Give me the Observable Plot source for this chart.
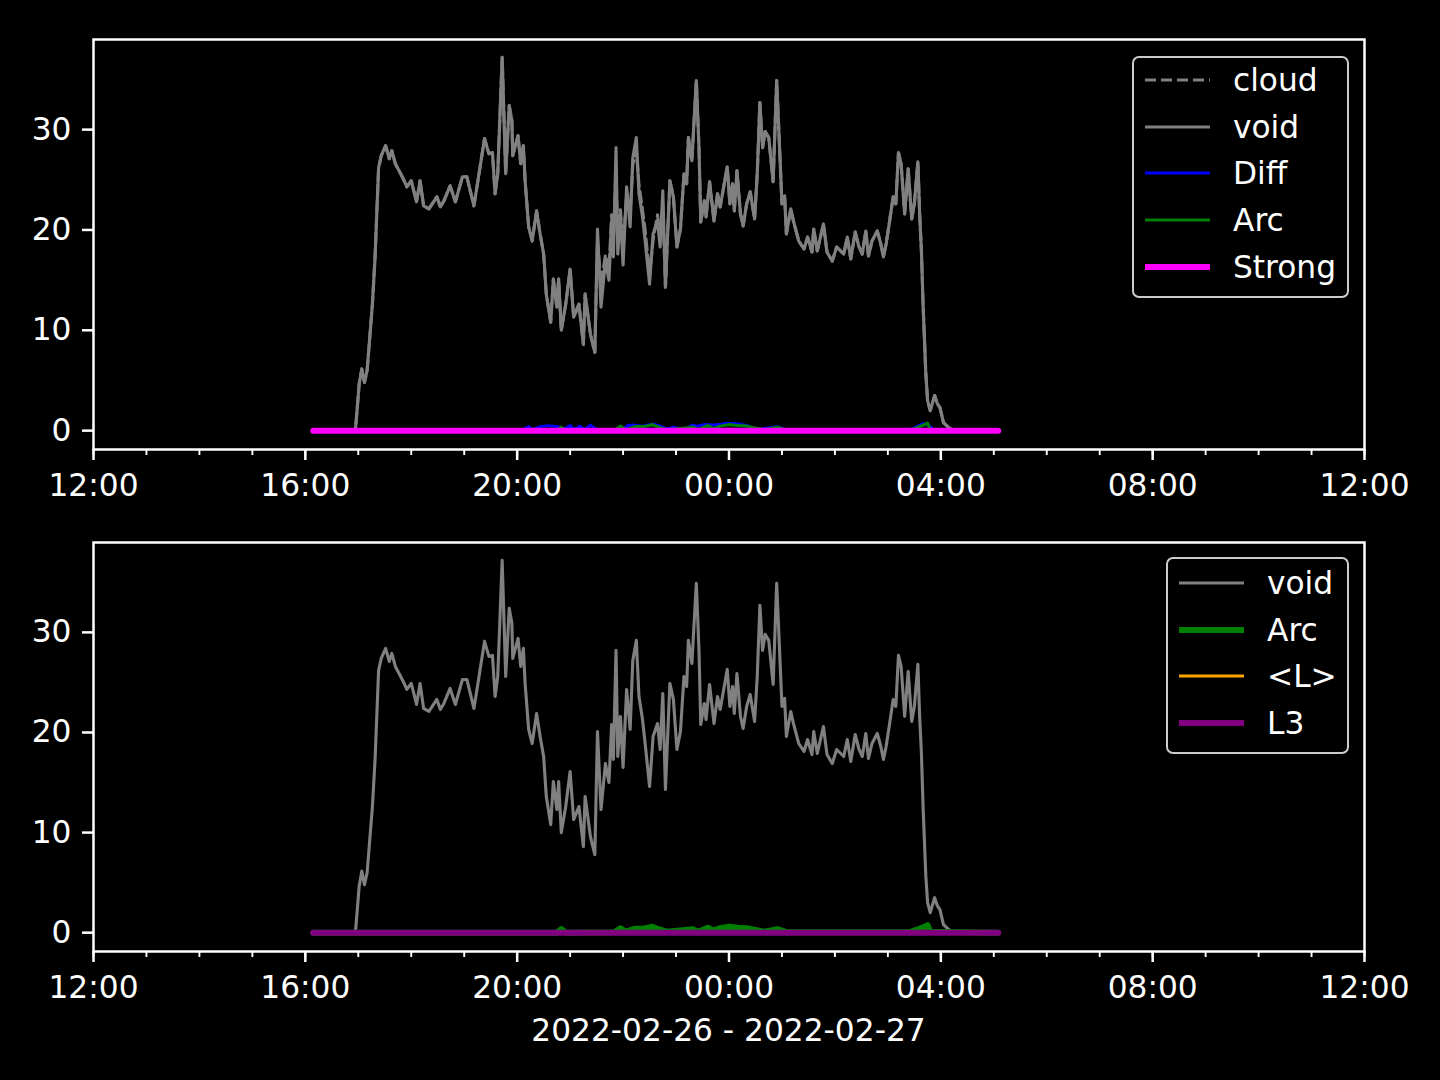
<!DOCTYPE html>
<html><head><meta charset="utf-8">
<script src="https://cdn.jsdelivr.net/npm/d3@7"></script>
<script src="https://cdn.jsdelivr.net/npm/@observablehq/plot@0.6"></script>
<style>
body{margin:0;background:#000;}
#fig{position:relative;width:1440px;height:1080px;background:#000;overflow:hidden;font-family:"DejaVu Sans",sans-serif;color:#fff;}
.panel{position:absolute;left:0;}
.legend{position:absolute;border:2px solid #cccccc;border-radius:7px;background:#000;box-sizing:border-box;}
.row{position:absolute;left:0;height:40px;display:flex;align-items:center;}
.row svg{position:absolute;left:10px;top:15px;}
.row span{position:absolute;left:99px;top:0;line-height:40px;font-size:31.25px;white-space:nowrap;color:#fff;}
#xlabel{position:absolute;left:0;width:1457px;text-align:center;top:1011px;font-size:31.25px;line-height:38px;}
</style></head>
<body><div id="fig"></div>
<script>
// ---- data ----
const voidTimes = ["16:09","16:30","16:55","16:57","17:01","17:04","17:07","17:10","17:16","17:19","17:23","17:26","17:31","17:35","17:38","17:42","17:48","17:52","17:55","18:00","18:06","18:10","18:14","18:20","18:29","18:33","18:37","18:44","18:50","18:58","19:03","19:11","19:15","19:23","19:28","19:32","19:35","19:38","19:43","19:47","19:51","19:54","19:55","20:01","20:04","20:07","20:09","20:13","20:17","20:22","20:26","20:30","20:33","20:38","20:41","20:45","20:47","20:50","20:55","21:00","21:04","21:10","21:15","21:17","21:23","21:28","21:31","21:35","21:40","21:44","21:47","21:49","21:52","21:54","21:57","22:00","22:04","22:08","22:11","22:15","22:18","22:22","22:25","22:30","22:34","22:39","22:42","22:45","22:48","22:53","22:57","23:01","23:05","23:09","23:12","23:14","23:18","23:20","23:23","23:26","23:28","23:32","23:34","23:38","23:43","23:47","23:50","23:52","23:58","00:01","00:04","00:06","00:09","00:13","00:16","00:20","00:24","00:29","00:32","00:35","00:38","00:41","00:45","00:50","00:54","00:56","01:00","01:03","01:05","01:10","01:13","01:19","01:25","01:29","01:34","01:36","01:40","01:47","01:51","01:57","02:02","02:10","02:14","02:18","02:23","02:27","02:31","02:35","02:38","02:42","02:48","02:52","02:55","02:58","03:02","03:06","03:09","03:12","03:15","03:19","03:23","03:27","03:30","03:34","03:36","03:38","03:40","03:43","03:45","03:48","03:53","03:56","03:59","04:03","04:09","04:15","04:40","05:05"];
const voidValues = [0,0,0,0.3,4.65,6.15,4.8,6.0,12.6,17.3,26.2,27.4,28.4,27.1,27.9,26.6,25.6,24.9,24.3,24.9,22.8,24.9,22.4,22.1,23.3,22.3,22.9,24.4,22.8,25.3,25.3,22.4,24.6,29.1,27.6,27.7,23.6,25.6,37.2,25.6,32.4,30.9,27.4,29.4,26.6,28.4,24.9,20.3,18.9,21.9,19.6,17.6,13.6,10.8,15.1,12.3,15.1,10.0,12.6,16.1,11.3,12.6,8.6,13.6,9.6,7.8,20.1,12.3,16.9,15.0,20.8,17.3,28.2,17.6,21.6,16.5,24.3,20.3,27.2,29.2,23.6,21.3,18.9,14.6,19.6,20.9,18.3,23.9,14.3,24.9,23.3,18.3,20.1,25.6,24.6,29.2,26.9,30.2,34.9,28.2,20.8,22.9,21.3,24.8,20.9,23.6,22.3,23.3,26.3,22.6,24.6,21.9,25.9,21.6,20.4,22.6,23.8,21.1,25.6,32.7,28.2,29.8,29.2,24.8,34.9,30.9,22.6,23.4,19.6,22.1,20.9,18.9,18.1,19.3,17.8,20.1,17.9,20.6,17.8,16.9,18.3,17.6,19.3,17.1,19.8,18.4,17.6,19.9,17.4,18.9,19.9,18.6,17.3,18.6,20.9,23.3,22.6,27.7,26.6,21.6,26.1,21.1,22.6,26.8,21.6,17.9,12.3,5.65,3.0,2.0,3.5,2.7,2.3,0.8,0.3,0,0,0];

// cloud follows void except in this window, where it reads differently
const cloudWindow = ["21:30","22:46"];
const cloudTimes = ["21:31","21:35","21:40","21:44","21:47","21:49","21:52","21:54","21:57","22:00","22:04","22:08","22:11","22:15","22:18","22:22","22:25","22:30","22:34","22:39","22:42","22:45"];
const cloudValues = [19.0,14.5,17.5,16.0,21.5,19.0,26.0,18.5,22.0,18.0,23.5,21.5,26.5,28.0,24.5,22.0,20.0,15.5,19.0,21.5,19.5,22.5];

const diffTimes = ["16:09","20:05","20:13","20:18","20:26","20:35","20:46","20:52","21:00","21:05","21:11","21:16","21:23","21:30","22:00","22:05","22:12","22:17","22:22","22:27","22:35","22:42","22:50","22:57","23:10","23:19","23:24","23:32","23:42","23:47","23:55","00:05","00:15","00:21","00:30","00:55","01:05","03:25","03:33","03:40","03:46","03:52","05:05"];
const diffValues = [0,0,0.4,0.1,0.4,0.5,0.4,0.1,0.5,0.1,0.45,0.1,0.55,0.1,0.1,0.5,0.55,0.5,0.45,0.55,0.65,0.45,0.15,0.35,0.1,0.55,0.45,0.6,0.55,0.6,0.7,0.7,0.6,0.5,0.1,0.4,0.05,0.05,0.4,0.7,0.55,0.05,0];

const arcTimes = ["16:09","20:45","20:50","20:55","21:50","21:57","22:03","22:14","22:20","22:26","22:33","22:40","22:50","23:19","23:25","23:36","23:42","23:50","00:00","00:10","00:20","00:28","00:40","00:55","01:05","03:25","03:33","03:40","03:45","03:48","05:05"];
const arcValues = [0,0,0.35,0,0.05,0.45,0.1,0.4,0.4,0.45,0.6,0.35,0.1,0.35,0.1,0.5,0.2,0.45,0.6,0.5,0.45,0.3,0.1,0.35,0.05,0.05,0.3,0.55,0.75,0.1,0];

const flatTimes = ["16:09","05:05"];   // Strong, <L>, L3
const strongValues = [0,0];
const lValues = [0,0];
const l3Values = [0,0];

const xTickLabels = ["12:00","16:00","20:00","00:00","04:00","08:00","12:00"];
const yTicks = [0,10,20,30];
const xAxisLabel = "2022-02-26 - 2022-02-27";

// ---- helpers ----
const toDate = t => { const [h,m] = t.split(":").map(Number); return new Date(2022,1,h<12?27:26,h,m); };
const rows = (times, values) => times.map((t,i)=>({t:toDate(t), v:values[i]}));
const X0 = new Date(2022,1,26,12), X1 = new Date(2022,1,27,12);
const majorTicks = d3.timeHour.every(4).range(X0, new Date(+X1+1));
const minorTicks = d3.timeHour.every(1).range(X0, new Date(+X1+1));

const voidData = rows(voidTimes, voidValues);
const w0 = toDate(cloudWindow[0]), w1 = toDate(cloudWindow[1]);
const cloudData = voidData.filter(d => d.t < w0 || d.t > w1).concat(rows(cloudTimes, cloudValues)).sort((a,b)=>a.t-b.t);
const diffData = rows(diffTimes, diffValues);
const arcData = rows(arcTimes, arcValues);
const strongData = rows(flatTimes, strongValues);
const lData = rows(flatTimes, lValues);
const l3Data = rows(flatTimes, l3Values);

const YD = [-1.88, 38.98];
function panel(marks, height, mt, mb){
  return Plot.plot({
    width:1440, height, marginLeft:93, marginRight:76, marginTop:mt, marginBottom:mb,
    style:{background:"transparent", color:"#fff", fontFamily:"'DejaVu Sans', sans-serif", fontSize:"31.25px", overflow:"visible"},
    x:{type:"time", domain:[X0,X1]},
    y:{domain:YD},
    marks:[
      ...marks,
      Plot.frame({stroke:"#fff", strokeWidth:2.5}),
      Plot.axisX({ticks:minorTicks, tickSize:6, strokeWidth:1.9, text:null, label:null}),
      Plot.axisX({ticks:majorTicks, tickSize:11, tickPadding:13, strokeWidth:2.5, tickFormat:(d,i)=>xTickLabels[i], label:null, fontSize:31.25}),
      Plot.axisY({ticks:yTicks, tickSize:11, tickPadding:11, strokeWidth:2.5, label:null, fontSize:31.25})
    ]
  });
}

const L = (data, stroke, w, extra={}) => Plot.line(data, {x:"t", y:"v", stroke, strokeWidth:w, ...extra});

const fig = document.getElementById("fig");
const p1 = panel([
  L(cloudData, "#808080", 3.1, {strokeDasharray:"11,5"}),
  L(voidData, "#808080", 3.1),
  L(diffData, "#0000ff", 3),
  L(arcData, "#008000", 3),
  L(strongData, "#ff00ff", 6)
], 540, 39, 91);
p1.classList.add("panel"); p1.style.top = "0px";
fig.appendChild(p1);

const p2 = panel([
  L(voidData, "#808080", 3.1),
  L(arcData, "#008000", 6),
  L(lData, "#ffa500", 3),
  L(l3Data, "#800080", 6)
], 578, 40, 129);
p2.classList.add("panel"); p2.style.top = "502px";
fig.appendChild(p2);

function legend(left, top, w, h, items, firstY, step){
  const box = document.createElement("div");
  box.className = "legend";
  Object.assign(box.style, {left:left+"px", top:top+"px", width:w+"px", height:h+"px"});
  items.forEach((it, i) => {
    const r = document.createElement("div");
    r.className = "row";
    r.style.top = (firstY + i*step - 20) + "px";
    r.style.width = "100%";
    r.innerHTML = `<svg width="67" height="10"><line x1="1" x2="66" y1="5" y2="5" stroke="${it.c}" stroke-width="${it.w}" ${it.dash?'stroke-dasharray="11,5"':''}/></svg><span></span>`;
    r.querySelector("span").textContent = it.label;
    box.appendChild(r);
  });
  fig.appendChild(box);
}
legend(1132, 56, 217, 242, [
  {label:"cloud", c:"#808080", w:3, dash:true},
  {label:"void", c:"#808080", w:3},
  {label:"Diff", c:"#0000ff", w:3},
  {label:"Arc", c:"#008000", w:3},
  {label:"Strong", c:"#ff00ff", w:6}
], 22, 46.7);
legend(1166, 557, 183, 197, [
  {label:"void", c:"#808080", w:3},
  {label:"Arc", c:"#008000", w:6},
  {label:"<L>", c:"#ffa500", w:3},
  {label:"L3", c:"#800080", w:6}
], 24, 46.7);

const xl = document.createElement("div");
xl.id = "xlabel"; xl.textContent = xAxisLabel;
fig.appendChild(xl);
</script>
</body></html>
